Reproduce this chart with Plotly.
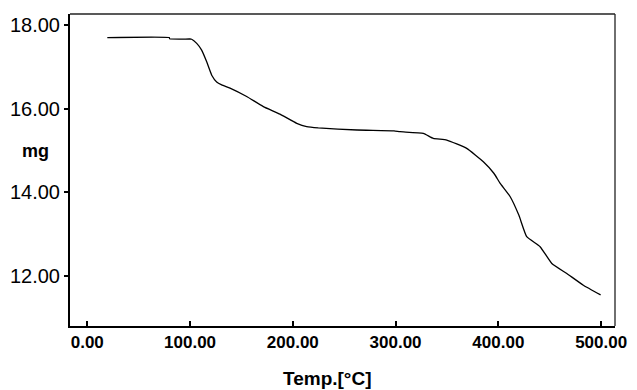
import plotly.graph_objects as go

temp_c = [19.5, 79.8, 80.2, 100.0, 101.6, 106.5, 111.3, 116.2, 121.1, 125.9, 130.8, 138.9,
          155.1, 171.3, 187.5, 203.8, 213.5, 224.8, 262.5, 298.5, 304.3, 327.0, 336.7,
          349.8, 369.2, 385.4, 395.8, 401.6, 411.4, 420.0, 427.6, 440.6, 452.0,
          466.6, 482.7, 499.5]
mass_mg = [17.70, 17.70, 17.67, 17.665, 17.66, 17.56, 17.40, 17.12, 16.80, 16.64, 16.57, 16.49,
           16.29, 16.05, 15.87, 15.65, 15.57, 15.54, 15.49, 15.47, 15.45, 15.41, 15.29,
           15.25, 15.05, 14.73, 14.45, 14.22, 13.90, 13.45, 12.94, 12.70, 12.30,
           12.06, 11.78, 11.55]

x_ticks = [0, 100, 200, 300, 400, 500]
x_tick_labels = ["0.00", "100.00", "200.00", "300.00", "400.00", "500.00"]
y_ticks = [12, 14, 16, 18]
y_tick_labels = ["12.00", "14.00", "16.00", "18.00"]

fig = go.Figure()
fig.add_trace(go.Scatter(x=temp_c, y=mass_mg, mode="lines",
                         line=dict(color="black", width=1.3, shape="spline", smoothing=0.4),
                         showlegend=False, hoverinfo="skip"))

# page body has an 8px default margin; figure is sized to compensate
fig.update_layout(
    width=629, height=382,
    margin=dict(l=62, r=22, t=6, b=64),
    paper_bgcolor="white", plot_bgcolor="white",
    xaxis=dict(range=[-16.8, 513.5], tickvals=x_ticks, ticktext=x_tick_labels,
               ticks="inside", ticklen=5, tickwidth=1.5, tickcolor="black",
               showline=True, linecolor="black", linewidth=2, mirror=False,
               showgrid=False, zeroline=False, automargin=False,
               tickfont=dict(family="Liberation Sans, Arial",
                             size=17, color="black", weight="bold")),
    yaxis=dict(range=[10.805, 18.263], tickvals=y_ticks, ticktext=y_tick_labels,
               ticks="outside", ticklen=4, tickwidth=1.5, tickcolor="black",
               showline=True, linecolor="black", linewidth=2, mirror=False,
               showgrid=False, zeroline=False, automargin=False,
               tickfont=dict(family="Liberation Sans, Arial", size=20, color="black")),
    shapes=[
        dict(type="line", xref="paper", yref="paper", x0=0, x1=1, y0=1, y1=1,
             line=dict(color="#222", width=1.3)),
        dict(type="line", xref="paper", yref="paper", x0=1, x1=1, y0=0, y1=1,
             line=dict(color="#222", width=1.3)),
    ],
    annotations=[
        dict(text="mg", xref="paper", yref="y", x=-0.0624, y=15.0, showarrow=False,
             xanchor="center", yanchor="middle",
             font=dict(family="Liberation Sans, Arial", size=18, color="black", weight="bold")),
        dict(text="Temp.[°C]", xref="paper", yref="paper", x=0.473, y=-0.167, showarrow=False,
             xanchor="center", yanchor="middle",
             font=dict(family="Liberation Sans, Arial", size=19, color="black", weight="bold")),
    ],
)

fig.write_html("out.html")
